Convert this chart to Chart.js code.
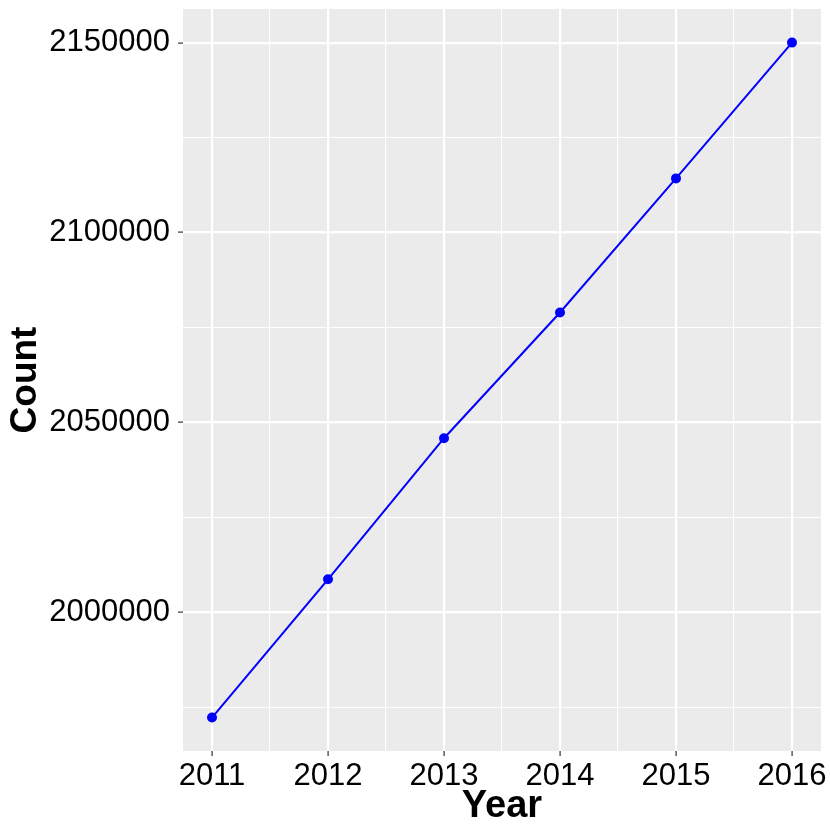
<!DOCTYPE html>
<html lang="en">

<head>
    <meta charset="UTF-8">
    <title>Count by Year</title>
    <script src="https://cdn.jsdelivr.net/npm/chart.js"></script>
    <style>
        body {
            margin: 0;
            background: #ffffff;
        }

        #wrap {
            width: 830px;
            height: 830px;
        }
    </style>
</head>

<body>
    <div id="wrap"><canvas id="lineChart"></canvas></div>

    <script>
        // datos
        const years = [2011, 2012, 2013, 2014, 2015, 2016];
        const counts = [1972300, 2008700, 2045850, 2078950, 2114250, 2150000];
        // etiquetas (mayores) y lineas menores de la rejilla
        const yMajor = [2000000, 2050000, 2100000, 2150000];
        const yMinor = [1975000, 2025000, 2075000, 2125000];
        const xMajor = [2011, 2012, 2013, 2014, 2015, 2016];
        const xMinor = [2011.5, 2012.5, 2013.5, 2014.5, 2015.5];

        const FONT = "'Liberation Sans', Arial, Helvetica, sans-serif";

        // fondo gris del panel (estilo ggplot)
        const panelBg = {
            id: "panelBg",
            beforeDraw(chart) {
                const a = chart.chartArea;
                const ctx = chart.ctx;
                ctx.save();
                ctx.fillStyle = "#EBEBEB";
                ctx.fillRect(a.left, a.top, a.right - a.left, a.bottom - a.top);
                ctx.restore();
            }
        };

        const asTicks = (major, minor) => major.concat(minor).sort((a, b) => a - b).map(v => ({ value: v }));

        new Chart(document.getElementById("lineChart"), {
            type: "line",
            data: {
                datasets: [{
                    label: "Count",
                    data: years.map((y, i) => ({ x: y, y: counts[i] })),
                    borderColor: "#0000FF",
                    backgroundColor: "#0000FF",
                    borderWidth: 2,
                    pointRadius: 4,
                    pointHoverRadius: 4,
                    tension: 0
                }]
            },
            options: {
                responsive: true,
                maintainAspectRatio: false,
                animation: false,
                layout: {
                    padding: { top: 9, right: 9, left: 0, bottom: 0 }
                },
                plugins: {
                    legend: { display: false },
                    tooltip: { enabled: false }
                },
                scales: {
                    x: {
                        type: "linear",
                        bounds: "data",
                        min: 2010.75,
                        max: 2016.25,
                        afterBuildTicks(scale) { scale.ticks = asTicks(xMajor, xMinor); },
                        afterFit(scale) {
                            scale.height = 79;
                            scale.paddingLeft = 0;
                            scale.paddingRight = 0;
                        },
                        border: { display: false },
                        grid: {
                            color: "#FFFFFF",
                            lineWidth: c => xMajor.includes(c.tick.value) ? 2.2 : 1.1,
                            drawTicks: true,
                            tickLength: 5,
                            tickWidth: 1.2,
                            tickColor: c => xMajor.includes(c.tick.value) ? "#333333" : "rgba(0,0,0,0)"
                        },
                        ticks: {
                            autoSkip: false,
                            maxRotation: 0,
                            padding: 2,
                            color: "#000000",
                            font: { family: FONT, size: 31 },
                            callback: v => xMajor.includes(v) ? String(v) : ""
                        },
                        title: {
                            display: true,
                            text: "Year",
                            color: "#000000",
                            font: { family: FONT, size: 38, weight: "bold", lineHeight: 1.2 },
                            padding: { top: 0, bottom: 1 }
                        }
                    },
                    y: {
                        type: "linear",
                        bounds: "data",
                        min: 1963500,
                        max: 2158850,
                        afterBuildTicks(scale) { scale.ticks = asTicks(yMajor, yMinor); },
                        afterFit(scale) {
                            scale.width = 183;
                            scale.paddingTop = 0;
                            scale.paddingBottom = 0;
                        },
                        border: { display: false },
                        grid: {
                            color: "#FFFFFF",
                            lineWidth: c => yMajor.includes(c.tick.value) ? 2.2 : 1.1,
                            drawTicks: true,
                            tickLength: 5,
                            tickWidth: 1.2,
                            tickColor: c => yMajor.includes(c.tick.value) ? "#333333" : "rgba(0,0,0,0)"
                        },
                        ticks: {
                            autoSkip: false,
                            padding: 8,
                            color: "#000000",
                            font: { family: FONT, size: 31 },
                            callback: v => yMajor.includes(v) ? String(v) : ""
                        },
                        title: {
                            display: true,
                            text: "Count",
                            color: "#000000",
                            font: { family: FONT, size: 37, weight: "bold", lineHeight: 1.2 },
                            padding: { top: 4, bottom: 0 }
                        }
                    }
                }
            },
            plugins: [panelBg]
        });
    </script>
</body>

</html>
